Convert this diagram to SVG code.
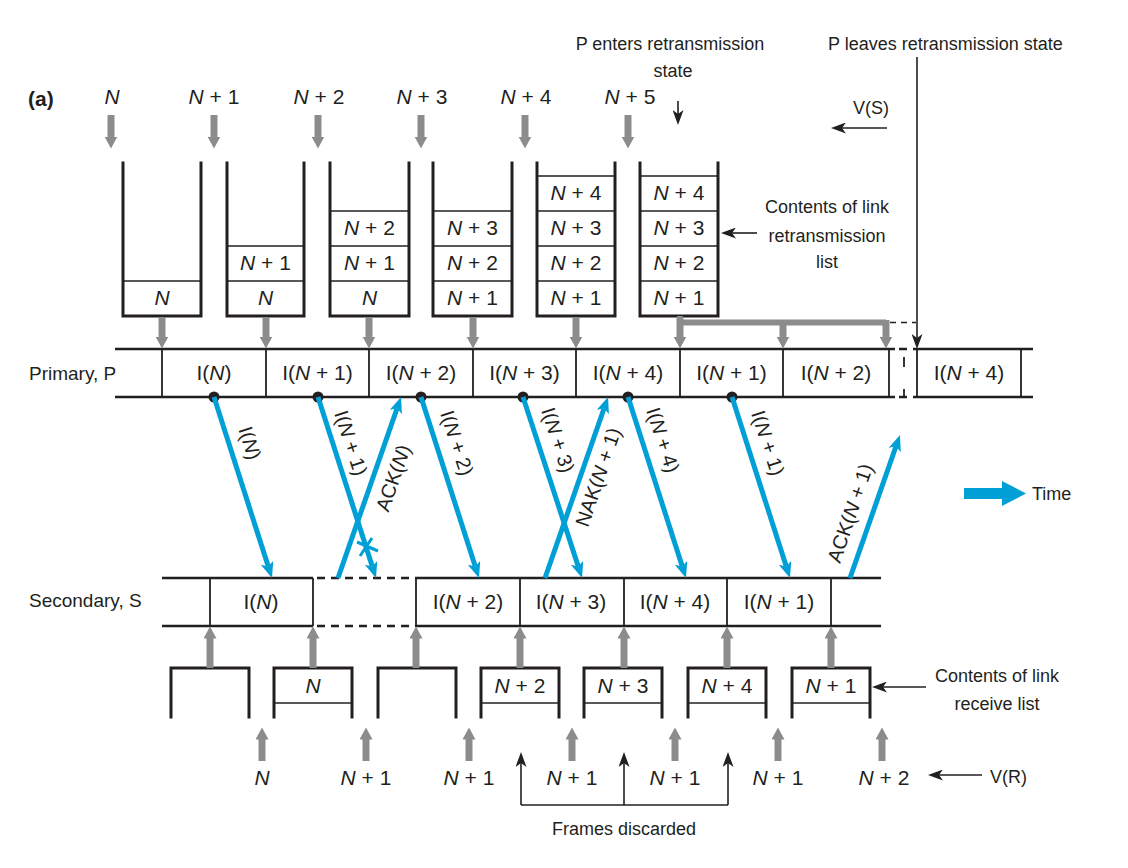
<svg xmlns="http://www.w3.org/2000/svg" width="1128" height="868" viewBox="0 0 1128 868">
<style>
text{font-family:"Liberation Sans",Arial,sans-serif;fill:#231f20}
.s18{font-size:18px}
.s19{font-size:19px}
.s20{font-size:20px}
.s21{font-size:21px}
.mid{text-anchor:middle}
.i{font-style:italic}
.box{fill:none;stroke:#231f20;stroke-width:3;stroke-linecap:square}
.cell{stroke:#231f20;stroke-width:1.5}
.rail{stroke:#231f20;stroke-width:2.5}
.div{stroke:#231f20;stroke-width:1.8}
.dash{stroke:#231f20;stroke-width:2.5;stroke-dasharray:8 6}
.gray{stroke:#8c8c8c;stroke-width:7;marker-end:url(#gh)}
.blue{stroke:#00a0d6;stroke-width:5;marker-end:url(#bh)}
.bk{stroke:#231f20;stroke-width:1.6;fill:none;marker-end:url(#kh)}
.lbl{font-size:20px;text-anchor:middle;dominant-baseline:central}
</style>
<defs>
<marker id="gh" markerUnits="userSpaceOnUse" viewBox="0 0 12 13" markerWidth="12" markerHeight="13" refX="0.5" refY="6.5" orient="auto"><path d="M0,0 L12,6.5 L0,13 z" fill="#8c8c8c"/></marker>
<marker id="bh" markerUnits="userSpaceOnUse" viewBox="0 0 16 13" markerWidth="16" markerHeight="13" refX="4" refY="6.5" orient="auto"><path d="M0,0 L16,6.5 L0,13 L4,6.5 z" fill="#00a0d6"/></marker>
<marker id="kh" markerUnits="userSpaceOnUse" viewBox="0 0 15 11" markerWidth="15" markerHeight="11" refX="4" refY="5.5" orient="auto"><path d="M0,0 L15,5.5 L0,11 L4,5.5 z" fill="#231f20"/></marker>
</defs>

<text x="28" y="106" style="font-size:21px;font-weight:bold">(a)</text>

<g id="input-labels">
<text class="s21 mid i" x="112" y="104">N</text>
<text class="s21 mid" x="214" y="104"><tspan class="i">N</tspan> + 1</text>
<text class="s21 mid" x="319" y="104"><tspan class="i">N</tspan> + 2</text>
<text class="s21 mid" x="422" y="104"><tspan class="i">N</tspan> + 3</text>
<text class="s21 mid" x="526" y="104"><tspan class="i">N</tspan> + 4</text>
<text class="s21 mid" x="630" y="104"><tspan class="i">N</tspan> + 5</text>
</g>

<g id="input-arrows">
<line class="gray" x1="111" y1="115" x2="111" y2="137"/>
<line class="gray" x1="214" y1="115" x2="214" y2="137"/>
<line class="gray" x1="318" y1="115" x2="318" y2="137"/>
<line class="gray" x1="421" y1="115" x2="421" y2="137"/>
<line class="gray" x1="525" y1="115" x2="525" y2="137"/>
<line class="gray" x1="628" y1="115" x2="628" y2="137"/>
</g>

<g id="stack1">
<line class="cell" x1="123" y1="281" x2="201" y2="281"/>
<path class="box" d="M123,163 V316 H201 V163"/>
<text class="s21 mid i" x="162" y="305">N</text>
</g>
<g id="stack2">
<line class="cell" x1="227" y1="246" x2="304" y2="246"/>
<line class="cell" x1="227" y1="281" x2="304" y2="281"/>
<path class="box" d="M227,163 V316 H304 V163"/>
<text class="s21 mid" x="265.5" y="270"><tspan class="i">N</tspan> + 1</text>
<text class="s21 mid i" x="265.5" y="305">N</text>
</g>
<g id="stack3">
<line class="cell" x1="330" y1="211" x2="409" y2="211"/>
<line class="cell" x1="330" y1="246" x2="409" y2="246"/>
<line class="cell" x1="330" y1="281" x2="409" y2="281"/>
<path class="box" d="M330,163 V316 H409 V163"/>
<text class="s21 mid" x="369.5" y="235"><tspan class="i">N</tspan> + 2</text>
<text class="s21 mid" x="369.5" y="270"><tspan class="i">N</tspan> + 1</text>
<text class="s21 mid i" x="369.5" y="305">N</text>
</g>
<g id="stack4">
<line class="cell" x1="433" y1="211" x2="512" y2="211"/>
<line class="cell" x1="433" y1="246" x2="512" y2="246"/>
<line class="cell" x1="433" y1="281" x2="512" y2="281"/>
<path class="box" d="M433,163 V316 H512 V163"/>
<text class="s21 mid" x="472.5" y="235"><tspan class="i">N</tspan> + 3</text>
<text class="s21 mid" x="472.5" y="270"><tspan class="i">N</tspan> + 2</text>
<text class="s21 mid" x="472.5" y="305"><tspan class="i">N</tspan> + 1</text>
</g>
<g id="stack5">
<line class="cell" x1="537" y1="176" x2="615" y2="176"/>
<line class="cell" x1="537" y1="211" x2="615" y2="211"/>
<line class="cell" x1="537" y1="246" x2="615" y2="246"/>
<line class="cell" x1="537" y1="281" x2="615" y2="281"/>
<path class="box" d="M537,163 V316 H615 V163"/>
<text class="s21 mid" x="576" y="200"><tspan class="i">N</tspan> + 4</text>
<text class="s21 mid" x="576" y="235"><tspan class="i">N</tspan> + 3</text>
<text class="s21 mid" x="576" y="270"><tspan class="i">N</tspan> + 2</text>
<text class="s21 mid" x="576" y="305"><tspan class="i">N</tspan> + 1</text>
</g>
<g id="stack6">
<line class="cell" x1="640" y1="176" x2="718" y2="176"/>
<line class="cell" x1="640" y1="211" x2="718" y2="211"/>
<line class="cell" x1="640" y1="246" x2="718" y2="246"/>
<line class="cell" x1="640" y1="281" x2="718" y2="281"/>
<path class="box" d="M640,163 V316 H718 V163"/>
<text class="s21 mid" x="679" y="200"><tspan class="i">N</tspan> + 4</text>
<text class="s21 mid" x="679" y="235"><tspan class="i">N</tspan> + 3</text>
<text class="s21 mid" x="679" y="270"><tspan class="i">N</tspan> + 2</text>
<text class="s21 mid" x="679" y="305"><tspan class="i">N</tspan> + 1</text>
</g>

<g id="annotations-top">
<text class="s18 mid" x="670" y="50">P enters retransmission</text>
<text class="s18 mid" x="673" y="77">state</text>
<text class="s18" x="828" y="50">P leaves retransmission state</text>
<text class="s18" x="853" y="114">V(S)</text>
<text class="s18 mid" x="827" y="213">Contents of link</text>
<text class="s18 mid" x="827" y="242">retransmission</text>
<text class="s18 mid" x="827" y="268">list</text>
</g>

<g id="primary">
<text class="s19" x="29" y="380">Primary, P</text>
<line class="rail" x1="115" y1="349" x2="895" y2="349"/>
<line class="rail" x1="115" y1="397" x2="895" y2="397"/>
<line class="dash" x1="899" y1="349" x2="916" y2="349"/>
<line class="dash" x1="899" y1="397" x2="916" y2="397"/>
<line class="rail" x1="916" y1="349" x2="1033" y2="349"/>
<line class="rail" x1="916" y1="397" x2="1033" y2="397"/>
<line class="div" x1="162" y1="349" x2="162" y2="397"/>
<line class="div" x1="266" y1="349" x2="266" y2="397"/>
<line class="div" x1="369" y1="349" x2="369" y2="397"/>
<line class="div" x1="473" y1="349" x2="473" y2="397"/>
<line class="div" x1="576" y1="349" x2="576" y2="397"/>
<line class="div" x1="680" y1="349" x2="680" y2="397"/>
<line class="div" x1="783" y1="349" x2="783" y2="397"/>
<line class="div" x1="889" y1="349" x2="889" y2="397"/>
<line x1="904" y1="357" x2="904" y2="397" stroke="#231f20" stroke-width="1.8" stroke-dasharray="10 22"/>
<line class="div" x1="917" y1="349" x2="917" y2="397"/>
<line class="div" x1="1021" y1="349" x2="1021" y2="397"/>
<text class="s21 mid" x="214" y="380">I(<tspan class="i">N</tspan>)</text>
<text class="s21 mid" x="317.5" y="380">I(<tspan class="i">N</tspan> + 1)</text>
<text class="s21 mid" x="421" y="380">I(<tspan class="i">N</tspan> + 2)</text>
<text class="s21 mid" x="524.5" y="380">I(<tspan class="i">N</tspan> + 3)</text>
<text class="s21 mid" x="628" y="380">I(<tspan class="i">N</tspan> + 4)</text>
<text class="s21 mid" x="731.5" y="380">I(<tspan class="i">N</tspan> + 1)</text>
<text class="s21 mid" x="836" y="380">I(<tspan class="i">N</tspan> + 2)</text>
<text class="s21 mid" x="969" y="380">I(<tspan class="i">N</tspan> + 4)</text>
<g fill="#231f20">
<circle cx="214" cy="397" r="5.5"/>
<circle cx="318" cy="397" r="5.5"/>
<circle cx="421" cy="397" r="5.5"/>
<circle cx="523" cy="397" r="5.5"/>
<circle cx="628" cy="397" r="5.5"/>
<circle cx="732" cy="397" r="5.5"/>
</g>
</g>

<g id="secondary">
<text class="s19" x="29" y="607">Secondary, S</text>
<line class="rail" x1="162" y1="578" x2="313" y2="578"/>
<line class="rail" x1="162" y1="626" x2="313" y2="626"/>
<line class="dash" x1="317" y1="578" x2="413" y2="578"/>
<line class="dash" x1="317" y1="626" x2="413" y2="626"/>
<line class="rail" x1="415" y1="578" x2="881" y2="578"/>
<line class="rail" x1="415" y1="626" x2="881" y2="626"/>
<line class="div" x1="210" y1="578" x2="210" y2="626"/>
<line class="div" x1="313" y1="578" x2="313" y2="626"/>
<line class="div" x1="416" y1="578" x2="416" y2="626"/>
<line class="div" x1="520" y1="578" x2="520" y2="626"/>
<line class="div" x1="624" y1="578" x2="624" y2="626"/>
<line class="div" x1="727" y1="578" x2="727" y2="626"/>
<line class="div" x1="831" y1="578" x2="831" y2="626"/>
<text class="s21 mid" x="261" y="609">I(<tspan class="i">N</tspan>)</text>
<text class="s21 mid" x="468" y="609">I(<tspan class="i">N</tspan> + 2)</text>
<text class="s21 mid" x="571" y="609">I(<tspan class="i">N</tspan> + 3)</text>
<text class="s21 mid" x="675" y="609">I(<tspan class="i">N</tspan> + 4)</text>
<text class="s21 mid" x="779" y="609">I(<tspan class="i">N</tspan> + 1)</text>
</g>

<g id="receive-boxes">
<path class="box" d="M171,717 V668 H249 V717"/>
<path class="box" d="M274,717 V668 H352 V717"/>
<line class="cell" x1="274" y1="703" x2="352" y2="703"/>
<text class="s21 mid i" x="313" y="693">N</text>
<path class="box" d="M378,717 V668 H456 V717"/>
<path class="box" d="M481,717 V668 H559 V717"/>
<line class="cell" x1="481" y1="703" x2="559" y2="703"/>
<text class="s21 mid" x="520" y="693"><tspan class="i">N</tspan> + 2</text>
<path class="box" d="M584,717 V668 H662 V717"/>
<line class="cell" x1="584" y1="703" x2="662" y2="703"/>
<text class="s21 mid" x="623" y="693"><tspan class="i">N</tspan> + 3</text>
<path class="box" d="M688,717 V668 H766 V717"/>
<line class="cell" x1="688" y1="703" x2="766" y2="703"/>
<text class="s21 mid" x="727" y="693"><tspan class="i">N</tspan> + 4</text>
<path class="box" d="M792,717 V668 H870 V717"/>
<line class="cell" x1="792" y1="703" x2="870" y2="703"/>
<text class="s21 mid" x="831" y="693"><tspan class="i">N</tspan> + 1</text>
</g>

<g id="vr-labels">
<text class="s21 mid i" x="262" y="785">N</text>
<text class="s21 mid" x="366" y="785"><tspan class="i">N</tspan> + 1</text>
<text class="s21 mid" x="469" y="785"><tspan class="i">N</tspan> + 1</text>
<text class="s21 mid" x="572" y="785"><tspan class="i">N</tspan> + 1</text>
<text class="s21 mid" x="675" y="785"><tspan class="i">N</tspan> + 1</text>
<text class="s21 mid" x="778" y="785"><tspan class="i">N</tspan> + 1</text>
<text class="s21 mid" x="884" y="785"><tspan class="i">N</tspan> + 2</text>
</g>

<g id="annotations-bottom">
<text class="s18 mid" x="997" y="682">Contents of link</text>
<text class="s18 mid" x="997" y="710">receive list</text>
<text class="s18" x="990" y="783">V(R)</text>
<text class="s18 mid" x="624" y="835">Frames discarded</text>
<text class="s18" x="1032" y="500">Time</text>
</g>

<g id="connectors">
<line class="gray" x1="162" y1="317" x2="162" y2="337"/>
<line class="gray" x1="266" y1="317" x2="266" y2="337"/>
<line class="gray" x1="369" y1="317" x2="369" y2="337"/>
<line class="gray" x1="473" y1="317" x2="473" y2="337"/>
<line class="gray" x1="576" y1="317" x2="576" y2="337"/>
<path d="M680,316 V322.5 H886" fill="none" stroke="#8c8c8c" stroke-width="6"/>
<line class="gray" x1="680" y1="317" x2="680" y2="337"/>
<line class="gray" x1="783" y1="320" x2="783" y2="337"/>
<line class="gray" x1="886" y1="320" x2="886" y2="337"/>
<line x1="890" y1="322.5" x2="916" y2="322.5" stroke="#231f20" stroke-width="1.6" stroke-dasharray="6 5"/>
<line class="gray" x1="210" y1="668" x2="210" y2="638"/>
<line class="gray" x1="313" y1="668" x2="313" y2="638"/>
<line class="gray" x1="416" y1="668" x2="416" y2="638"/>
<line class="gray" x1="520" y1="668" x2="520" y2="638"/>
<line class="gray" x1="624" y1="668" x2="624" y2="638"/>
<line class="gray" x1="727" y1="668" x2="727" y2="638"/>
<line class="gray" x1="831" y1="668" x2="831" y2="638"/>
<line class="gray" x1="262" y1="761" x2="262" y2="739"/>
<line class="gray" x1="366" y1="761" x2="366" y2="739"/>
<line class="gray" x1="469" y1="761" x2="469" y2="739"/>
<line class="gray" x1="572" y1="761" x2="572" y2="739"/>
<line class="gray" x1="675" y1="761" x2="675" y2="739"/>
<line class="gray" x1="778" y1="761" x2="778" y2="739"/>
<line class="gray" x1="882" y1="761" x2="882" y2="739"/>
<line class="bk" x1="678" y1="101" x2="678" y2="114"/>
<line class="bk" x1="917" y1="57" x2="917" y2="338"/>
<line class="bk" x1="887" y1="128" x2="842" y2="128"/>
<line class="bk" x1="757" y1="233" x2="732" y2="233"/>
<line class="bk" x1="926" y1="687" x2="883" y2="687"/>
<line class="bk" x1="982" y1="775" x2="939" y2="775"/>
<path d="M521,805 H728" fill="none" stroke="#231f20" stroke-width="1.6"/>
<line class="bk" x1="521" y1="805" x2="521" y2="763"/>
<line class="bk" x1="624" y1="805" x2="624" y2="763"/>
<line class="bk" x1="728" y1="805" x2="728" y2="763"/>
<line class="blue" x1="214" y1="397" x2="268.3" y2="566.6"/>
<line class="blue" x1="318" y1="397" x2="372.3" y2="566.6"/>
<line class="blue" x1="338" y1="578" x2="397.1" y2="408.3"/>
<line class="blue" x1="421" y1="397" x2="475.3" y2="566.6"/>
<line class="blue" x1="523" y1="397" x2="578.3" y2="566.6"/>
<line class="blue" x1="545" y1="578" x2="604.1" y2="408.3"/>
<line class="blue" x1="628" y1="397" x2="682.3" y2="566.6"/>
<line class="blue" x1="732" y1="397" x2="786.3" y2="566.6"/>
<line class="blue" x1="850" y1="578" x2="896" y2="446.3"/>
<g stroke="#00a0d6" stroke-width="3">
<line x1="357" y1="542" x2="378" y2="551"/>
<line x1="360" y1="556" x2="372" y2="538"/>
</g>
<path d="M964,488 H1002 V481 L1026,493.5 L1002,506 V499 H964 Z" fill="#00a0d6"/>
</g>

<g id="transfer-labels">
<text class="lbl" transform="translate(250,443) rotate(72)">I(<tspan class="i">N</tspan>)</text>
<text class="lbl" transform="translate(351,443) rotate(72)">I(<tspan class="i">N</tspan> + 1)</text>
<text class="lbl" transform="translate(393,478) rotate(-71)">ACK(<tspan class="i">N</tspan>)</text>
<text class="lbl" transform="translate(457,443) rotate(72)">I(<tspan class="i">N</tspan> + 2)</text>
<text class="lbl" transform="translate(558,440) rotate(72)">I(<tspan class="i">N</tspan> + 3)</text>
<text class="lbl" transform="translate(598,477) rotate(-71)">NAK(<tspan class="i">N</tspan> + 1)</text>
<text class="lbl" transform="translate(663,440) rotate(72)">I(<tspan class="i">N</tspan> + 4)</text>
<text class="lbl" transform="translate(768,443) rotate(72)">I(<tspan class="i">N</tspan> + 1)</text>
<text class="lbl" transform="translate(850,513) rotate(-71)">ACK(<tspan class="i">N</tspan> + 1)</text>
</g>
</svg>
